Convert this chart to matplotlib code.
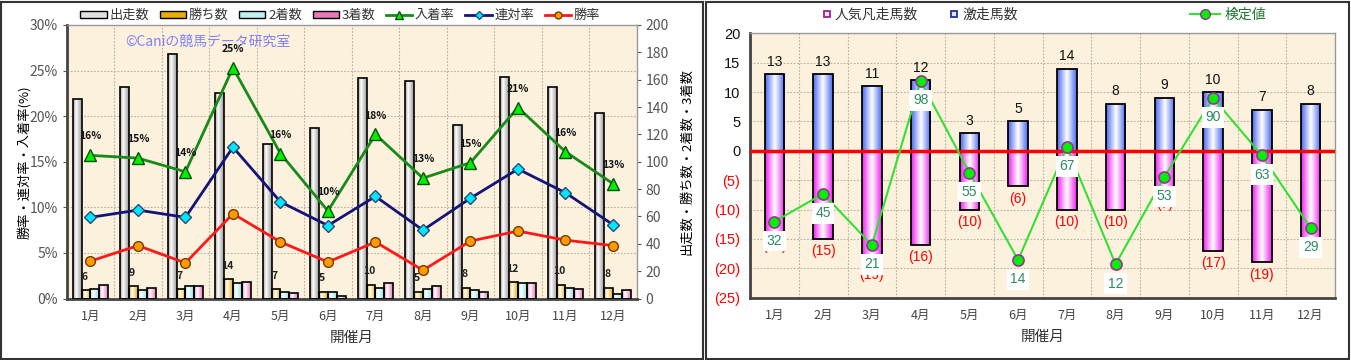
import numpy as np
import matplotlib
matplotlib.use("Agg")
import matplotlib.pyplot as plt
from matplotlib.colors import LinearSegmentedColormap
from matplotlib.lines import Line2D
from matplotlib.patches import Patch, Rectangle
from matplotlib.ticker import FixedLocator

plt.rcParams['font.family'] = ['Noto Sans CJK JP', 'DejaVu Sans']

months = ['1月', '2月', '3月', '4月', '5月', '6月', '7月', '8月', '9月', '10月', '11月', '12月']

# left chart: counts
runs = [146, 155, 179, 150, 113, 125, 161, 159, 127, 162, 155, 136]
wins = [6, 9, 7, 14, 7, 5, 10, 5, 8, 12, 10, 8]
second = [7, 6, 9, 11, 5, 5, 8, 7, 6, 11, 8, 3]
third = [10, 8, 9, 12, 4, 2, 11, 9, 5, 11, 7, 6]
# left chart: rates (%)
place_rate = [15.7, 15.4, 13.9, 25.3, 15.9, 9.6, 18.0, 13.2, 14.9, 20.95, 16.1, 12.6]
quin_rate = [8.9, 9.7, 8.9, 16.6, 10.6, 8.0, 11.2, 7.5, 11.0, 14.2, 11.6, 8.1]
win_rate = [4.1, 5.8, 3.9, 9.3, 6.2, 4.0, 6.2, 3.1, 6.3, 7.4, 6.4, 5.8]

# right chart
gekisou = [13, 13, 11, 12, 3, 5, 14, 8, 9, 10, 7, 8]
bonsou = [-14, -15, -19, -16, -10, -6, -10, -10, -7, -17, -19, -15]
kentei = [32, 45, 21, 98, 55, 14, 67, 12, 53, 90, 63, 29]

BG = '#FBF1DC'
GRID = '#B8B0A0'


def cylinder(ax, bars, color, z, hi=0.35):
    cmap = LinearSegmentedColormap.from_list('c', [(0, color), (hi, 'white'), (1, color)])
    grad = np.linspace(0, 1, 64).reshape(1, -1)
    for b in bars:
        x0, y0 = b.get_x(), b.get_y()
        w, h = b.get_width(), b.get_height()
        if h == 0:
            continue
        im = ax.imshow(grad, extent=[x0, x0 + w, y0, y0 + h], cmap=cmap,
                       aspect='auto', zorder=z, interpolation='bilinear')
        im.set_clip_path(b)


def style_frame(ax):
    for s in ['left', 'bottom']:
        ax.spines[s].set_color('#444444')
        ax.spines[s].set_linewidth(2)
    for s in ['top', 'right']:
        ax.spines[s].set_color('#999999')
        ax.spines[s].set_linewidth(1)


fig = plt.figure(figsize=(13.51, 3.6), dpi=100)
fig.patches.append(Rectangle((1 / 1351, 1 / 360), 702 / 1351, 357 / 360, transform=fig.transFigure,
                             fill=False, edgecolor='#333333', linewidth=1.5))
fig.patches.append(Rectangle((706 / 1351, 1 / 360), 643 / 1351, 357 / 360, transform=fig.transFigure,
                             fill=False, edgecolor='#333333', linewidth=1.5))

x = np.arange(len(months))

# ---------------- left chart ----------------
axc = fig.add_axes([66.7 / 1351, (360 - 298.5) / 360, 570 / 1351, 273.5 / 360])
axr = axc.twinx()
axc.yaxis.tick_right()
axc.yaxis.set_label_position('right')
axr.yaxis.tick_left()
axr.yaxis.set_label_position('left')
axc.set_facecolor(BG)
axr.patch.set_visible(False)

w = 0.185
bar_sets = [(runs, '#9A9A9A', -1.5), (wins, '#E8AE00', -0.5), (second, '#8FE0E0', 0.5), (third, '#E878B8', 1.5)]
win_bars = None
for vals, col, off in bar_sets:
    bars = axc.bar(x + off * w, vals, w, facecolor='none', edgecolor='black', linewidth=1.2, zorder=3)
    cylinder(axc, bars, col, 2.5)
    if vals is wins:
        win_bars = bars

for b, v in zip(win_bars, wins):
    axc.annotate(str(v), (b.get_x() + b.get_width() / 2, v), xytext=(-1, 6), textcoords='offset points',
                 ha='center', va='bottom', fontsize=7.5, fontweight='bold', color='#222222', zorder=5)

axc.set_xlim(-0.5, 11.5)
axc.set_ylim(0, 200)
axc.set_yticks(np.arange(0, 201, 20))
axc.tick_params(axis='y', labelsize=10, colors='#555555', length=3)
axc.set_xticks(x, months)
axc.tick_params(axis='x', labelsize=9, colors='#444444', length=0, pad=8)
axc.xaxis.set_minor_locator(FixedLocator(x[:-1] + 0.5))
rate_ticks = np.arange(0, 31, 5)
axc.yaxis.set_minor_locator(FixedLocator(rate_ticks * 200 / 30))
axc.tick_params(which='minor', length=0)
axc.grid(which='minor', color=GRID, linestyle=(0, (1.5, 1.5)), linewidth=0.8, zorder=0)
axc.set_axisbelow(True)
style_frame(axc)
axc.set_ylabel('出走数・勝ち数・2着数・3着数', fontsize=9.5, labelpad=8)
axc.set_xlabel('開催月', fontsize=10.5, color='#333333', labelpad=6)

axr.plot(x, place_rate, color='#178A17', linewidth=2, marker='^', markersize=8,
         markerfacecolor='#00F000', markeredgecolor='#0A500A', zorder=6)
axr.plot(x, quin_rate, color='#141478', linewidth=2, marker='D', markersize=6,
         markerfacecolor='#00E8FF', markeredgecolor='#2A4A7A', zorder=6)
axr.plot(x, win_rate, color='#FF1818', linewidth=2, marker='o', markersize=7,
         markerfacecolor='#FF9A00', markeredgecolor='#7A3A00', zorder=6)
for xi, v in zip(x, place_rate):
    axr.annotate(f'{round(v)}%', (xi, v), xytext=(0, 10), textcoords='offset points',
                 ha='center', va='bottom', fontsize=7.5, fontweight='bold', color='#111111', zorder=7)
axr.set_ylim(0, 30)
axr.set_yticks(rate_ticks, [f'{t}%' for t in rate_ticks])
axr.tick_params(axis='y', labelsize=10, colors='#555555', length=3)
for s in axr.spines.values():
    s.set_visible(False)
axr.set_ylabel('勝率・連対率・入着率(%)', fontsize=9.5)
axr.yaxis.set_label_coords(-0.062, 0.5)
axr.text(0.102, 0.938, '©Caniの競馬データ研究室', transform=axr.transAxes, fontsize=10,
         color='#8080F8', va='center', ha='left')

handles = [Patch(facecolor='#E0E0E0', edgecolor='black', label='出走数'),
           Patch(facecolor='#E8AE00', edgecolor='black', label='勝ち数'),
           Patch(facecolor='#BFF0F0', edgecolor='black', label='2着数'),
           Patch(facecolor='#E878B8', edgecolor='black', label='3着数'),
           Line2D([], [], color='#178A17', lw=2, marker='^', markersize=6, markerfacecolor='#00F000',
                  markeredgecolor='#0A500A', label='入着率'),
           Line2D([], [], color='#141478', lw=2, marker='D', markersize=4, markerfacecolor='#00E8FF',
                  markeredgecolor='#2A4A7A', label='連対率'),
           Line2D([], [], color='#FF1818', lw=2, marker='o', markersize=5, markerfacecolor='#FF9A00',
                  markeredgecolor='#7A3A00', label='勝率')]
axr.legend(handles=handles, loc='center', bbox_to_anchor=(0.48, 1.035), ncol=7, frameon=False,
           fontsize=9.5, handlelength=2.0, handleheight=0.45, handletextpad=0.2, columnspacing=0.8,
           labelcolor='#333333')

# ---------------- right chart ----------------
axb = fig.add_axes([750 / 1351, (360 - 297.7) / 360, 585 / 1351, 264.4 / 360])
axb.set_facecolor(BG)
bw = 0.4
pb = axb.bar(x, bonsou, bw, facecolor='none', edgecolor='black', linewidth=1.3, zorder=3)
cylinder(axb, pb, '#F020F0', 2.5, hi=0.5)
gb = axb.bar(x, gekisou, bw, facecolor='none', edgecolor='black', linewidth=1.3, zorder=3)
cylinder(axb, gb, '#4A68F0', 2.5, hi=0.5)
axb.axhline(0, color='#FF0000', linewidth=2.5, zorder=4)

for xi, v in zip(x, gekisou):
    axb.annotate(str(v), (xi, v), xytext=(0, 4), textcoords='offset points', ha='center', va='bottom',
                 fontsize=10, color='#111111', zorder=5, family=['Liberation Sans', 'DejaVu Sans'])
for xi, v in zip(x, bonsou):
    axb.annotate(f'({-v})', (xi, v), xytext=(0, -4), textcoords='offset points', ha='center', va='top',
                 fontsize=10, color='#FF0000', zorder=5, family=['Liberation Sans', 'DejaVu Sans'])

axb.set_xlim(-0.5, 11.5)
axb.set_ylim(-25, 20)
yt = np.arange(-25, 21, 5)
axb.set_yticks(yt, [str(t) if t >= 0 else f'({-t})' for t in yt])
for lab, t in zip(axb.get_yticklabels(), yt):
    lab.set_color('#FF0000' if t < 0 else '#111111')
    lab.set_fontfamily(['Liberation Sans', 'DejaVu Sans'])
axb.tick_params(axis='y', labelsize=10.5, length=0, pad=7)
axb.set_xticks(x, months)
axb.tick_params(axis='x', labelsize=9, colors='#444444', length=0, pad=8)
axb.xaxis.set_minor_locator(FixedLocator(x[:-1] + 0.5))
axb.tick_params(which='minor', length=0)
axb.grid(which='minor', axis='x', color=GRID, linestyle=(0, (1.5, 1.5)), linewidth=0.8)
axb.grid(which='major', axis='y', color=GRID, linestyle=(0, (1.5, 1.5)), linewidth=0.8)
axb.set_axisbelow(True)
style_frame(axb)
axb.set_xlabel('開催月', fontsize=10.5, color='#333333', labelpad=6)

axk = axb.twinx()
axk.plot(x, kentei, color='#33E033', linewidth=1.5, marker='o', markersize=8,
         markerfacecolor='#00F000', markeredgecolor='#993399', markeredgewidth=1.2, zorder=6)
for xi, v in zip(x, kentei):
    axk.annotate(str(v), (xi, v), xytext=(0, -14), textcoords='offset points', ha='center', va='center',
                 fontsize=10, color='#2E8B60', zorder=7, family=['Liberation Sans', 'DejaVu Sans'],
                 bbox=dict(boxstyle='square,pad=0.25', facecolor='white', edgecolor='none'))
axk.set_ylim(-3.7, 120.3)
axk.set_yticks([])
for s in axk.spines.values():
    s.set_visible(False)

leg1 = axb.legend(handles=[Line2D([], [], linestyle='none', marker='s', markersize=5, markerfacecolor='#FFE0FF',
                                  markeredgecolor='#A0208A', markeredgewidth=1.3, label='人気凡走馬数'),
                           Line2D([], [], linestyle='none', marker='s', markersize=5, markerfacecolor='#E0E8FF',
                                  markeredgecolor='#2030A0', markeredgewidth=1.3, label='激走馬数')],
                  loc='center left', bbox_to_anchor=(0.1, 1.07), ncol=2, frameon=False, fontsize=10,
                  handlelength=0.8, handletextpad=0.2, columnspacing=2.2, labelcolor='#333333')
axk.legend(handles=[Line2D([], [], color='#33E033', lw=1.5, marker='o', markersize=7, markerfacecolor='#00F000',
                           markeredgecolor='#993399', label='検定値')],
           loc='center left', bbox_to_anchor=(0.73, 1.07), frameon=False, fontsize=10,
           handlelength=2.2, handletextpad=0.3, labelcolor='#1E7A2E')

fig.savefig('out.png', dpi=100)
